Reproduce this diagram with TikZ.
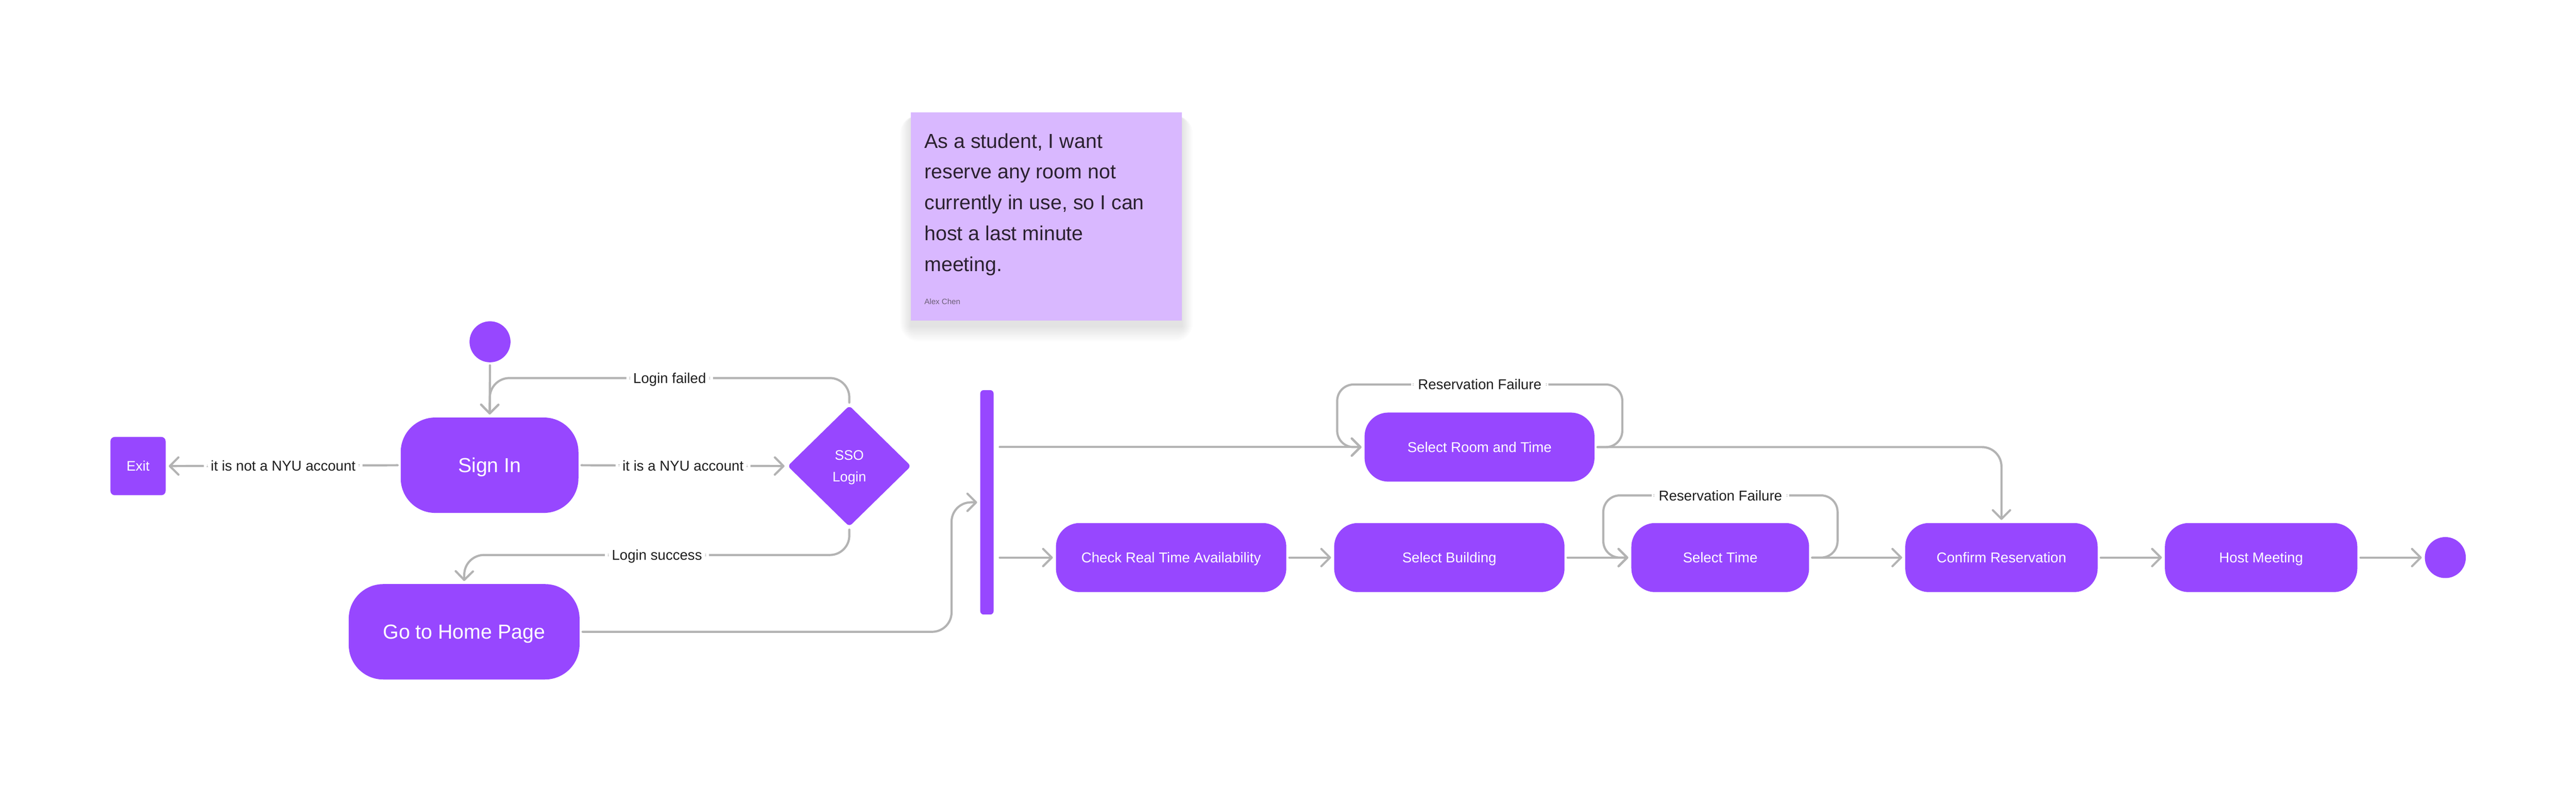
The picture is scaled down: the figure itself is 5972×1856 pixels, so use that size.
\documentclass[tikz,border=0pt]{standalone}
\usepackage{fontspec}
\setmainfont{Liberation Sans}
\usetikzlibrary{shapes.geometric,arrows.meta}
\definecolor{purp}{HTML}{9747FF}
\definecolor{sticky}{HTML}{D9B8FF}
\definecolor{conncol}{HTML}{B3B3B3}
\definecolor{lblcol}{HTML}{1E1E1E}
\definecolor{notetext}{HTML}{2A2130}
\definecolor{authortext}{HTML}{6B5F78}
\tikzset{
  act/.style={fill=purp, text=white, inner sep=0pt, draw=none},
  bigbox/.style={act, text height=33.7pt, text depth=0pt, rounded corners=80pt, minimum height=221pt, font=\fontsize{47}{56}\selectfont},
  rowbox/.style={act, text height=23.6pt, text depth=0pt, rounded corners=55pt, minimum height=160pt, font=\fontsize{33}{40}\selectfont},
  dot/.style={circle, fill=purp, inner sep=0pt, minimum size=95pt},
  conn/.style={draw=conncol, line width=5pt, line cap=round, line join=round, rounded corners=45pt,
    shorten <=7pt, shorten >=7pt,
    -{Straight Barb[length=20pt, width=40pt, line width=5pt, round]}},
  lbl/.style={fill=white, text=lblcol, inner xsep=16pt, inner ysep=8pt, text height=23.6pt, text depth=0pt, font=\fontsize{33}{40}\selectfont},
  noteline/.style={anchor=base west, inner sep=0pt, text=notetext, font=\fontsize{47}{56}\selectfont},
}
\begin{document}
\begin{tikzpicture}[x=1pt, y=-1pt]
\useasboundingbox (0,0) rectangle (5972,1856);
\fill[white] (0,0) rectangle (5972,1856);

% sticky note with soft shadow
\foreach \i in {1,...,14} {
  \fill[black, opacity=0.009, rounded corners=\i*3pt]
    (2112-\i*1.8, 260+14-\i*0.5) rectangle (2740+\i*1.8, 743+12+\i*2.6);
}
\fill[sticky] (2112,260) rectangle (2740,743);
\node[noteline] (n1) at (2143,343) {As a student, I want};
\node[noteline] (n2) at (2143,414) {reserve any room not};
\node[noteline] (n3) at (2143,486) {currently in use, so I can};
\node[noteline] (n4) at (2143,557) {host a last minute};
\node[noteline] (n5) at (2143,629) {meeting.};
\node[anchor=base west, inner sep=0pt, text=authortext, font=\fontsize{18}{22}\selectfont] (auth) at (2143,705) {Alex Chen};

% nodes
\node[dot] (start) at (1136,792) {};
\node[bigbox, minimum width=412pt] (signin) at (1135,1078) {Sign In};
\node[act, text height=22.9pt, text depth=0pt, rounded corners=10pt, minimum width=128pt, minimum height=135pt, font=\fontsize{32}{40}\selectfont] (exit) at (320,1080) {Exit};
\node[act, diamond, rounded corners=8pt, minimum width=286pt, minimum height=280pt, align=center,
      text height=73pt, text depth=0pt, font=\fontsize{32}{50}\selectfont] (sso) at (1969,1080) {SSO\\Login};
\node[bigbox, minimum width=535pt] (home) at (1076,1464) {Go to Home Page};
\node[act, rounded corners=8pt, minimum width=31pt, minimum height=520pt] (bar) at (2288,1164) {};
\node[rowbox, minimum width=533pt] (room) at (3430,1036) {Select Room and Time};
\node[rowbox, minimum width=534pt] (check) at (2715,1292) {Check Real Time Availability};
\node[rowbox, minimum width=534pt] (build) at (3360,1292) {Select Building};
\node[rowbox, minimum width=412pt] (time) at (3988,1292) {Select Time};
\node[rowbox, minimum width=446pt] (confirm) at (4640,1292) {Confirm Reservation};
\node[rowbox, minimum width=446pt] (host) at (5242,1292) {Host Meeting};
\node[dot] (end) at (5669,1292) {};

% helper coordinates
\coordinate (lf1) at (1969,876);
\coordinate (lf2) at (1136,876);
\coordinate (ls1) at (1969,1286);
\coordinate (ls2) at (1077,1286);
\coordinate (hb1) at (2206,1464);
\coordinate (hb2) at (2206,1164);
\coordinate (rl1) at (3761,1036);
\coordinate (rl2) at (3761,891);
\coordinate (rl3) at (3100,891);
\coordinate (rl4) at (3100,1036);
\coordinate (rc1) at (4640,1036);
\coordinate (tl1) at (4260,1292);
\coordinate (tl2) at (4260,1148);
\coordinate (tl3) at (3717,1148);
\coordinate (tl4) at (3717,1292);

% connectors
\draw[conn] (start) -- (signin);
\draw[conn] (sso.north) -- (lf1) -- node[lbl]{Login failed} (lf2) -- (signin.north);
\draw[conn] (signin.west) -- node[lbl]{it is not a NYU account} (exit.east);
\draw[conn] (signin.east) -- node[lbl]{it is a NYU account} (sso.west);
\draw[conn] (sso.south) -- (ls1) -- node[lbl]{Login success} (ls2) -- (home.north);
\draw[conn] (home.east) -- (hb1) -- (hb2) -- (bar.west);
\draw[conn, shorten <=14pt] (bar.east |- room.west) -- (room.west);
\draw[conn, shorten <=14pt] (bar.east |- check.west) -- (check.west);
\draw[conn, rounded corners=38pt] (room.east) -- (rl1) -- (rl2) -- node[lbl]{Reservation Failure} (rl3) -- (rl4) -- (room.west);
\draw[conn] (room.east) -- (rc1) -- (confirm.north);
\draw[conn] (check.east) -- (build.west);
\draw[conn] (build.east) -- (time.west);
\draw[conn, rounded corners=38pt] (time.east) -- (tl1) -- (tl2) -- node[lbl]{Reservation Failure} (tl3) -- (tl4) -- (time.west);
\draw[conn] (time.east) -- (confirm.west);
\draw[conn] (confirm.east) -- (host.west);
\draw[conn] (host.east) -- (end);
\end{tikzpicture}
\end{document}
